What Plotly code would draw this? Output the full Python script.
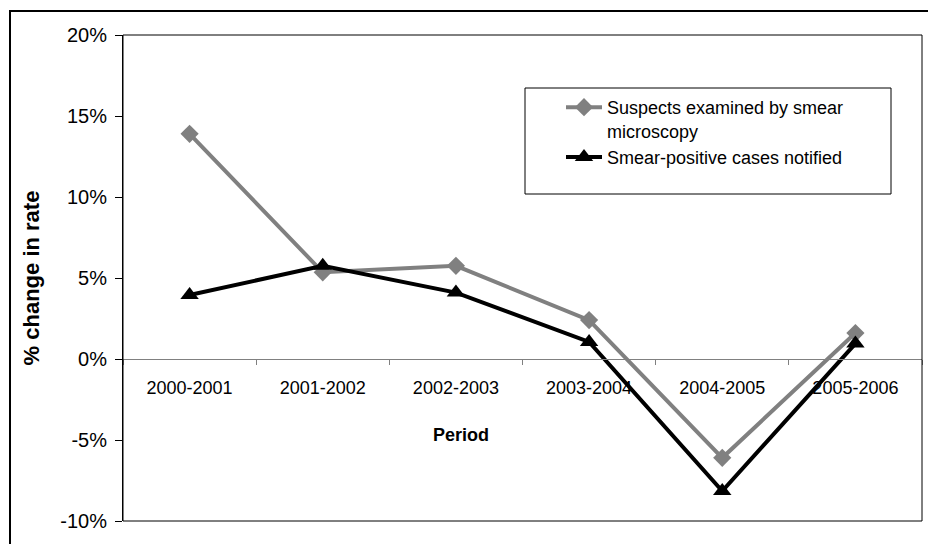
import plotly.graph_objects as go

periods = ["2000-2001", "2001-2002", "2002-2003", "2003-2004", "2004-2005", "2005-2006"]
suspects_examined = [13.9, 5.35, 5.75, 2.4, -6.1, 1.6]
smear_positive = [3.95, 5.75, 4.1, 1.05, -8.15, 0.95]
y_ticks = [-10, -5, 0, 5, 10, 15, 20]
y_tick_labels = ["-10%", "-5%", "0%", "5%", "10%", "15%", "20%"]

FONT = "Arial, Liberation Sans, sans-serif"

# page has an 8px body margin; plot area on screen: x 123..922, y 35..521
OFF = 8
L, R, T, B = 123, 922, 35, 521
W, H = 936, 544

def px(x):
    return (x - L) / (R - L)

def py(y):
    return (B - y) / (B - T)

fig = go.Figure()
fig.add_trace(go.Scatter(
    x=periods, y=suspects_examined, mode="lines+markers",
    name="Suspects examined by smear<br>microscopy",
    line=dict(color="#808080", width=4),
    marker=dict(symbol="diamond", size=14, color="#808080"),
))
fig.add_trace(go.Scatter(
    x=periods, y=smear_positive, mode="lines+markers",
    name="Smear-positive cases notified",
    line=dict(color="#000000", width=4),
    marker=dict(symbol="triangle-up", size=16, color="#000000"),
))

fig.update_layout(
    width=W, height=H,
    margin=dict(l=L - OFF, r=W - (R - OFF), t=T - OFF, b=H - (B - OFF)),
    paper_bgcolor="white", plot_bgcolor="white",
    font=dict(family=FONT, color="black", size=18),
    showlegend=True,
    legend=dict(
        x=px(561), y=py(89), xanchor="left", yanchor="top",
        bgcolor="rgba(0,0,0,0)", borderwidth=0,
        font=dict(family=FONT, size=18, color="black"),
        valign="top", tracegroupgap=0, itemwidth=36,
    ),
    xaxis=dict(
        type="category", range=[-0.5, 5.5],
        anchor="free", position=(0 - (-10)) / 30,
        showline=True, linecolor="#808080", linewidth=1,
        ticks="outside", tickson="boundaries", ticklen=5, tickcolor="#808080",
        ticklabelstandoff=12,
        tickfont=dict(family=FONT, size=18, color="black"),
        showgrid=False, zeroline=False, automargin=False,
    ),
    yaxis=dict(
        range=[-10, 20], tickvals=y_ticks, ticktext=y_tick_labels,
        showline=True, linecolor="black", linewidth=1,
        ticks="outside", ticklen=7, tickcolor="black",
        ticklabelstandoff=4,
        tickfont=dict(family=FONT, size=20, color="black"),
        showgrid=False, zeroline=False, automargin=False,
        title=dict(text="<b>% change in rate</b>",
                   font=dict(family=FONT, size=22, color="black"), standoff=14),
    ),
    shapes=[
        # plot area frame
        dict(type="rect", xref="paper", yref="paper", x0=0, x1=1, y0=0, y1=1,
             line=dict(color="black", width=1), fillcolor="rgba(0,0,0,0)", layer="above"),
        # outer chart border
        dict(type="rect", xref="paper", yref="paper", x0=px(10), x1=px(950), y0=py(560), y1=py(11),
             line=dict(color="black", width=2), fillcolor="rgba(0,0,0,0)"),
        # legend box
        dict(type="rect", xref="paper", yref="paper", x0=px(525), x1=px(891), y0=py(194), y1=py(88),
             line=dict(color="black", width=1), fillcolor="rgba(0,0,0,0)"),
    ],
    annotations=[
        dict(text="<b>Period</b>", xref="paper", yref="paper", x=px(461), y=py(435),
             xanchor="center", yanchor="middle",
             showarrow=False, font=dict(family=FONT, size=18, color="black")),
    ],
)

fig.write_html("out.html")
